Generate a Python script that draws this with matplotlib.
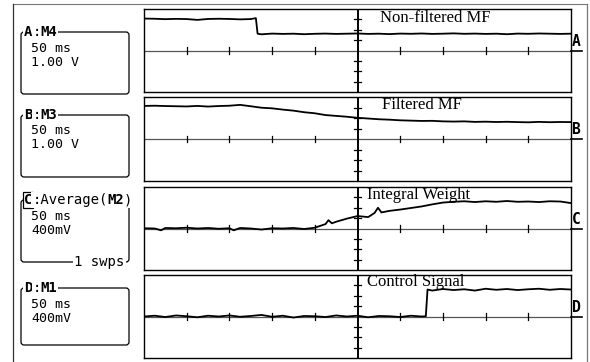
import matplotlib
matplotlib.use("Agg")
import matplotlib.pyplot as plt
from matplotlib.patches import FancyBboxPatch

# ---------------- data ----------------
# time axis in ms (50 ms/div, 10 divisions)
t_A = [0, 12.5, 25, 37.5, 50, 62.5, 75, 87.5, 100, 112.5, 125, 131,
       133, 137.5, 150, 162.5, 175, 187.5, 200, 212.5, 225, 237.5, 250,
       262.5, 275, 287.5, 300, 312.5, 325, 337.5, 350, 362.5, 375, 387.5,
       400, 412.5, 425, 437.5, 450, 462.5, 475, 487.5, 500]
v_A = [3.08, 3.06, 3.02, 3.05, 3.03, 2.95, 3.04, 3.06, 3.04, 3.00, 3.03, 3.12,
       1.62, 1.56, 1.63, 1.60, 1.62, 1.57, 1.61, 1.63, 1.60, 1.62, 1.64,
       1.60, 1.62, 1.58, 1.63, 1.61, 1.64, 1.60, 1.62, 1.65, 1.61, 1.63,
       1.60, 1.62, 1.57, 1.63, 1.61, 1.64, 1.62, 1.60, 1.62]   # volts, 1 V/div

t_B = [0, 12.5, 25, 37.5, 50, 62.5, 75, 87.5, 100, 112.5, 125, 137.5, 150,
       162.5, 175, 187.5, 200, 212.5, 225, 237.5, 250, 262.5, 275, 287.5,
       300, 312.5, 325, 337.5, 350, 362.5, 375, 387.5, 400, 412.5, 425,
       437.5, 450, 462.5, 475, 487.5, 500]
v_B = [3.15, 3.17, 3.14, 3.12, 3.10, 3.15, 3.09, 3.14, 3.17, 3.25, 3.12, 2.98, 2.92,
       2.80, 2.70, 2.55, 2.45, 2.28, 2.20, 2.12, 2.02, 1.95, 1.88, 1.84,
       1.78, 1.75, 1.72, 1.73, 1.68, 1.66, 1.68, 1.63, 1.65, 1.62, 1.64,
       1.61, 1.59, 1.63, 1.60, 1.62, 1.61]   # volts, 1 V/div

t_C = [0, 12.5, 20, 25, 37.5, 50, 62.5, 75, 87.5, 100, 105, 112.5, 125, 137.5,
       150, 162.5, 175, 187.5, 200, 212.5, 216, 220, 225, 237.5, 250, 262.5,
       270, 274, 278, 287.5, 300, 312.5, 325, 337.5, 350, 362.5, 375, 387.5,
       400, 412.5, 425, 437.5, 450, 462.5, 475, 487.5, 500]
v_C = [10, 0, -70, 20, 10, 30, 0, 20, -10, 10, -70, 20, 0, -40,
       10, 0, 20, -20, 30, 170, 320, 200, 260, 380, 480, 440,
       600, 800, 620, 680, 730, 790, 850, 930, 1000, 1030, 1050, 1020,
       1050, 1030, 1060, 1030, 1040, 1020, 1050, 1040, 980]   # mV, 400 mV/div

t_D = [0, 12.5, 25, 37.5, 50, 62.5, 75, 87.5, 100, 112.5, 125, 137.5, 150,
       162.5, 175, 187.5, 200, 212.5, 225, 237.5, 250, 262.5, 275, 287.5,
       300, 312.5, 325, 330, 332, 337.5, 350, 362.5, 375, 387.5, 400,
       412.5, 425, 437.5, 450, 462.5, 475, 487.5, 500]
v_D = [0, 30, -20, 40, 10, -30, 30, 0, 40, -10, 20, 60, -10,
       30, -40, 20, 10, -20, 40, 0, 30, -30, 20, 10,
       -20, 30, 0, 10, 1040, 1000, 1060, 1020, 1050, 1000, 1070,
       1030, 1060, 1020, 1050, 1070, 1030, 1060, 1040]   # mV, 400 mV/div

volts_per_div = [1.0, 1.0, 400.0, 400.0]
panel_texts = ["Non-filtered MF", "Filtered MF", "Integral Weight", "Control Signal"]
channel_letters = ["A", "B", "C", "D"]
box_titles = [("A", "M4"), ("B", "M3"), ("C", "M2"), ("D", "M1")]
box_lines = [["50 ms", "1.00 V"], ["50 ms", "1.00 V"], ["50 ms", "400mV"], ["50 ms", "400mV"]]

series = [(t_A, v_A), (t_B, v_B), (t_C, v_C), (t_D, v_D)]

# ---------------- layout (pixels) ----------------
W, H = 590, 362
fig = plt.figure(figsize=(W / 100, H / 100), dpi=100)

ov = fig.add_axes([0, 0, 1, 1])
ov.set_xlim(0, W)
ov.set_ylim(H, 0)
ov.axis("off")
ov.set_zorder(10)
ov.patch.set_visible(False)

# outer frame
ov.plot([13, 587], [3.5, 3.5], color="#777777", lw=0.8)
ov.plot([13, 13], [3.5, H], color="#333333", lw=0.9)
ov.plot([587, 587], [3.5, H], color="#777777", lw=0.9)

panels_y = [(9, 92), (97, 181), (187, 270), (275, 358)]
px_left, px_right = 144, 571

mono = "DejaVu Sans Mono"
serif = "Liberation Serif"

for i, ((y0, y1), (t, v)) in enumerate(zip(panels_y, series)):
    ax = fig.add_axes([px_left / W, 1 - y1 / H, (px_right - px_left) / W, (y1 - y0) / H])
    ax.set_xlim(0, 500)
    ax.set_ylim(-4, 4)
    ax.set_xticks([])
    ax.set_yticks([])
    for s in ax.spines.values():
        s.set_color("black")
        s.set_linewidth(1.0)
    ax.axhline(0, color="#555555", lw=0.9, zorder=1)
    ax.axvline(250, color="black", lw=1.4, zorder=1)
    for k in range(1, 10):
        if k != 5:
            ax.plot([k * 50, k * 50], [-0.3, 0.3], color="black", lw=0.9, zorder=1)
    for k in [-3, -2, -1, 1, 2, 3]:
        ax.plot([246, 254], [k, k], color="black", lw=0.9, zorder=1)
    ax.plot(t, [val / volts_per_div[i] for val in v], color="black", lw=1.3, zorder=3)
    # annotation text
    ty = [18, 105, 195, 282][i]
    tx = [380, 382, 367, 367][i]
    ov.text(tx, ty, panel_texts[i], fontsize=12, family=serif, va="center", ha="left")
    # channel letter
    cy = (y0 + y1) / 2
    ov.text(576, cy - 1.5, channel_letters[i], fontsize=10.5, family=mono, weight="bold",
            va="bottom", ha="center")
    ov.plot([571, 582], [cy, cy], color="black", lw=1.2)

# left info boxes
boxes = [(32, 94), (115, 177), (200, 262), (288, 345)]
for i, ((b0, b1), (lt, mt), lines) in enumerate(zip(boxes, box_titles, box_lines)):
    ov.add_patch(FancyBboxPatch((21, b0), 108, b1 - b0,
                                boxstyle="round,pad=0,rounding_size=3",
                                fc="none", ec="black", lw=0.9))
    if lt == "C":
        ov.text(24, b0, "C", fontsize=10, family=mono, weight="bold", va="center", ha="left",
                bbox=dict(boxstyle="square,pad=0.05", fc="white", ec="black", lw=0.9))
        ov.text(32.5, b0, ":Average(", fontsize=10, family=mono, va="center", ha="left",
                bbox=dict(boxstyle="square,pad=0.1", fc="white", ec="none"))
        ov.text(107.5, b0, "M2", fontsize=10, family=mono, weight="bold", va="center", ha="left",
                bbox=dict(boxstyle="square,pad=0.05", fc="white", ec="none"))
        ov.text(124, b0, ")", fontsize=10, family=mono, va="center", ha="left",
                bbox=dict(boxstyle="square,pad=0.05", fc="white", ec="none"))
        ov.text(74, b1, "1 swps", fontsize=10, family=mono, va="center", ha="left",
                bbox=dict(boxstyle="square,pad=0.1", fc="white", ec="none"))
    else:
        ov.text(24, b0, lt, fontsize=10, family=mono, weight="bold", va="center", ha="left",
                bbox=dict(boxstyle="square,pad=0.05", fc="white", ec="none"))
        ov.text(32.3, b0, ":", fontsize=10, family=mono, va="center", ha="left",
                bbox=dict(boxstyle="square,pad=0.05", fc="white", ec="none"))
        ov.text(40.6, b0, mt, fontsize=10, family=mono, weight="bold", va="center", ha="left",
                bbox=dict(boxstyle="square,pad=0.05", fc="white", ec="none"))
    ov.text(31, b0 + 16, lines[0], fontsize=9.5, family=mono, va="center", ha="left")
    ov.text(31, b0 + 30, lines[1], fontsize=9.5, family=mono, va="center", ha="left")

fig.savefig("out.png", dpi=100, facecolor="white")
